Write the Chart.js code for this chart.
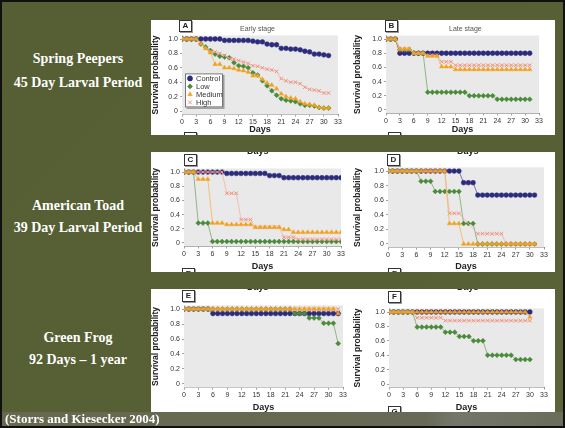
<!DOCTYPE html>
<html>
<head>
<meta charset="utf-8">
<title>Survival probability - Storrs and Kiesecker 2004</title>
<script src="https://cdn.jsdelivr.net/npm/chart.js@4.4.0/dist/chart.umd.min.js"></script>
<style>
    html, body { margin: 0; padding: 0; }
    body { width: 565px; height: 428px; overflow: hidden; }
    #slide {
        position: relative; width: 565px; height: 428px; overflow: hidden;
        background: linear-gradient(135deg, #565e33 0%, #575f34 70%, #5c6439 100%);
        font-family: "Liberation Serif", "Times New Roman", serif;
    }
    .frame { position: absolute; left: 0; top: 0; width: 565px; height: 428px; box-sizing: border-box; border: 2px solid #101010; pointer-events: none; }
    .label { position: absolute; left: 2px; width: 152px; text-align: center; color: #fff; font-weight: bold; font-size: 14px; line-height: 16px; white-space: nowrap; }
    .strip { position: absolute; left: 151px; width: 404px; background: #fff; overflow: hidden; }
    .strip canvas { position: absolute; top: 0; }
    .tag { position: absolute; width: 11px; height: 10px; border: 1px solid #333; box-shadow: 1px 1px 0 #999; background: #fff;
           font: bold 8px "Liberation Sans", Arial, sans-serif; color: #222; text-align: center; line-height: 10px; }
    .sub { position: absolute; font: 7px "Liberation Sans", Arial, sans-serif; color: #555; white-space: nowrap; }
    .cut { position: absolute; font: bold 9px "Liberation Sans", Arial, sans-serif; color: #222; white-space: nowrap; }
    #band { position: absolute; left: 0; top: 412px; width: 565px; height: 16px;
            background: linear-gradient(100deg, #66684f 0%, #686a55 75%, #74766a 80%, #6b6d5a 100%); }
    #cite { position: absolute; left: 5px; top: 411px; color: #fff; font-weight: bold; font-size: 13px; line-height: 16px; white-space: nowrap; }
</style>
</head>
<body>
<div id="slide">
    <div class="label" style="top:51px">Spring Peepers</div>
    <div class="label" style="top:75px">45 Day Larval Period</div>
    <div class="label" style="top:198px">American Toad</div>
    <div class="label" style="top:220px">39 Day Larval Period</div>
    <div class="label" style="top:330px">Green Frog</div>
    <div class="label" style="top:352px">92 Days – 1 year</div>

    <div class="strip" style="top:20px;height:115px">
        <canvas id="chartA" width="202" height="115" style="left:0"></canvas>
        <canvas id="chartB" width="202" height="115" style="left:202px"></canvas>
        <div class="tag" style="left:28px;top:0">A</div>
        <div class="tag" style="left:234px;top:0">B</div>
        <div class="sub" style="left:89px;top:5px">Early stage</div>
        <div class="sub" style="left:298px;top:5px">Late stage</div>
        <div class="tag" style="left:33px;top:112px">C</div>
        <div class="tag" style="left:237px;top:112px">D</div>
    </div>

    <div class="strip" style="top:152px;height:120px">
        <canvas id="chartC" width="202" height="120" style="left:0"></canvas>
        <canvas id="chartD" width="202" height="120" style="left:202px"></canvas>
        <div class="cut" style="left:96px;top:-6px">Days</div>
        <div class="cut" style="left:306px;top:-6px">Days</div>
        <div class="tag" style="left:33px;top:2px">C</div>
        <div class="tag" style="left:236px;top:2px">D</div>
        <div class="tag" style="left:31px;top:116px">E</div>
        <div class="tag" style="left:237px;top:116px">F</div>
    </div>

    <div class="strip" style="top:289px;height:124px">
        <canvas id="chartE" width="202" height="124" style="left:0"></canvas>
        <canvas id="chartF" width="202" height="124" style="left:202px"></canvas>
        <div class="cut" style="left:96px;top:-7px">Days</div>
        <div class="cut" style="left:306px;top:-7px">Days</div>
        <div class="tag" style="left:31px;top:1px">E</div>
        <div class="tag" style="left:237px;top:2px">F</div>
        <div class="tag" style="left:237px;top:117px">G</div>
    </div>

    <div id="band"></div>
    <div id="cite">(Storrs and Kiesecker 2004)</div>
    <div class="frame"></div>
</div>

<script>
// --- data ---
const seriesNames = ['Control', 'Low', 'Medium', 'High'];
const dayTicks = [0, 3, 6, 9, 12, 15, 18, 21, 24, 27, 30, 33];
const probTicks = [0, 0.2, 0.4, 0.6, 0.8, 1];

// A: Spring peepers, early stage
const daysA = [0,1,2,3,4,5,6,7,8,9,10,11,12,13,14,15,16,17,18,19,20,21,22,23,24,25,26,27,28,29,30,31];
const aControl = [1,1,1,1,1,1,1,1,1,0.98,0.98,0.98,0.98,0.98,0.98,0.97,0.96,0.96,0.93,0.92,0.92,0.87,0.87,0.86,0.86,0.85,0.83,0.82,0.79,0.79,0.78,0.77];
const aLow = [1,1,1,1,0.93,0.89,0.84,0.79,0.76,0.75,0.74,0.67,0.63,0.62,0.6,0.53,0.5,0.42,0.35,0.28,0.22,0.17,0.15,0.14,0.13,0.1,0.08,0.08,0.07,0.05,0.04,0.04];
const aMedium = [1,1,1,1,0.93,0.87,0.81,0.65,0.65,0.6,0.6,0.59,0.57,0.56,0.54,0.49,0.49,0.44,0.39,0.36,0.31,0.24,0.2,0.18,0.17,0.13,0.1,0.09,0.08,0.05,0.04,0.04];
const aHigh = [1,1,1,1,0.93,0.87,0.83,0.82,0.8,0.77,0.73,0.72,0.7,0.68,0.66,0.63,0.62,0.6,0.58,0.57,0.55,0.45,0.42,0.4,0.4,0.38,0.33,0.3,0.29,0.28,0.25,0.25];

// B: Spring peepers, late stage
const daysB = [0,1,2,3,4,5,6,7,8,9,10,11,12,13,14,15,16,17,18,19,20,21,22,23,24,25,26,27,28,29,30,31];
const bControl = [1,1,1,0.8,0.8,0.8,0.8,0.8,0.8,0.8,0.8,0.8,0.8,0.8,0.8,0.8,0.8,0.8,0.8,0.8,0.8,0.8,0.8,0.8,0.8,0.8,0.8,0.8,0.8,0.8,0.8,0.8];
const bLow = [1,1,1,0.85,0.85,0.85,0.8,0.8,0.8,0.25,0.25,0.25,0.25,0.25,0.25,0.25,0.25,0.25,0.2,0.2,0.2,0.2,0.2,0.2,0.15,0.15,0.15,0.15,0.15,0.15,0.15,0.15];
const bMedium = [1,1,1,0.86,0.86,0.86,0.8,0.8,0.8,0.76,0.76,0.76,0.61,0.61,0.61,0.57,0.57,0.57,0.57,0.57,0.57,0.57,0.57,0.57,0.57,0.57,0.57,0.57,0.57,0.57,0.57,0.57];
const bHigh = [1,1,1,0.86,0.86,0.86,0.8,0.8,0.8,0.77,0.77,0.77,0.68,0.68,0.68,0.63,0.63,0.63,0.63,0.63,0.63,0.63,0.63,0.63,0.63,0.63,0.63,0.63,0.63,0.63,0.63,0.63];

// C: American toad
const daysC = [0,1,2,3,4,5,6,7,8,9,10,11,12,13,14,15,16,17,18,19,20,21,22,23,24,25,26,27,28,29,30,31,32,33];
const cControl = [1,1,1,1,1,1,1,1,1,0.98,0.98,0.98,0.98,0.98,0.98,0.98,0.98,0.98,0.95,0.95,0.95,0.92,0.92,0.92,0.92,0.92,0.92,0.92,0.92,0.92,0.92,0.92,0.92,0.92];
const cLow = [1,1,1,0.28,0.28,0.28,0.02,0.02,0.02,0.02,0.02,0.02,0.02,0.02,0.02,0.02,0.02,0.02,0.02,0.02,0.02,0.02,0.02,0.02,0.02,0.02,0.02,0.02,0.02,0.02,0.02,0.02,0.02,0.02];
const cMedium = [1,1,1,0.9,0.9,0.9,0.28,0.28,0.28,0.26,0.26,0.26,0.26,0.26,0.26,0.22,0.22,0.22,0.22,0.22,0.22,0.19,0.19,0.15,0.15,0.15,0.15,0.15,0.15,0.15,0.15,0.15,0.15,0.15];
const cHigh = [1,1,1,1,1,1,1,1,1,0.7,0.7,0.7,0.33,0.33,0.33,0.22,0.22,0.22,0.22,0.22,0.22,0.08,0.08,0.08,0.05,0.05,0.05,0.05,0.05,0.05,0.05,0.05,0.05,0.05];

// D: American toad
const daysD = [0,1,2,3,4,5,6,7,8,9,10,11,12,13,14,15,16,17,18,19,20,21,22,23,24,25,26,27,28,29,30,31];
const dControl = [1,1,1,1,1,1,1,1,1,1,1,1,1,1,1,1,0.84,0.84,0.84,0.67,0.67,0.67,0.67,0.67,0.67,0.67,0.67,0.67,0.67,0.67,0.67,0.67];
const dLow = [1,1,1,1,1,1,1,0.86,0.86,0.86,0.72,0.72,0.72,0.72,0.72,0.72,0.28,0.28,0.28,0,0,0,0,0,0,0,0,0,0,0,0,0];
const dMedium = [1,1,1,1,1,1,1,1,1,1,1,1,1,0.28,0.28,0.28,0,0,0,0,0,0,0,0,0,0,0,0,0,0,0,0];
const dHigh = [1,1,1,1,1,1,1,1,1,1,1,1,1,0.42,0.42,0.42,null,null,null,0.14,0.14,0.14,0.14,0.14,0.14,0,0,0,0,0,0,0];

// E: Green frog
const daysE = [0,1,2,3,4,5,6,7,8,9,10,11,12,13,14,15,16,17,18,19,20,21,22,23,24,25,26,27,28,29,30,31,32];
const eControl = [1,1,1,1,1,1,0.94,0.94,0.94,0.94,0.94,0.94,0.94,0.94,0.94,0.94,0.94,0.94,0.94,0.94,0.94,0.94,0.94,0.94,0.94,0.94,0.94,0.94,0.94,0.94,0.94,0.94,0.94];
const eLow = [1,1,1,1,1,1,1,1,1,1,1,1,1,1,1,1,1,1,1,1,1,1,1,0.94,0.94,0.94,0.88,0.88,0.88,0.81,0.81,0.81,0.54];
const eMedium = [1,1,1,1,1,1,1,1,1,1,1,1,1,1,1,1,1,1,1,1,1,1,1,1,1,1,1,1,1,1,1,1,0.94];
const eHigh = [1,1,1,1,1,1,1,1,1,1,1,1,1,1,1,1,1,1,1,1,1,1,1,1,1,1,1,1,1,1,1,1,1];

// F: Green frog
const daysF = [0,1,2,3,4,5,6,7,8,9,10,11,12,13,14,15,16,17,18,19,20,21,22,23,24,25,26,27,28,29,30];
const fControl = [1,1,1,1,1,1,1,1,1,1,1,1,1,1,1,1,1,1,1,1,1,1,1,1,1,1,1,1,1,1,1];
const fLow = [1,1,1,1,1,1,0.79,0.79,0.79,0.79,0.79,0.79,0.72,0.72,0.72,0.66,0.66,0.66,0.6,0.6,0.6,0.4,0.4,0.4,0.4,0.4,0.4,0.34,0.34,0.34,0.34];
const fMedium = [1,1,1,1,1,1,1,1,1,1,1,1,1,1,1,1,1,1,1,1,1,1,1,1,1,1,1,1,1,1,0.93];
const fHigh = [1,1,1,1,1,1,0.92,0.92,0.92,0.92,0.92,0.92,0.88,0.88,0.88,0.88,0.88,0.88,0.88,0.88,0.88,0.88,0.88,0.88,0.88,0.88,0.88,0.88,0.88,0.88,0.88];

// --- styling ---
const seriesColors = ['#2d2c7c', '#4b8a3a', '#f3a01f', '#f0917c'];
const lineColors = ['#5a59a0', '#7aa86b', '#f5b656', '#f4b3a4'];
const seriesShapes = ['circle', 'rectRot', 'triangle', 'crossRot'];
const drawOrder = [3, 2, 0, 1]; // medium on top, as in the figure
const tickFont = { family: '"Liberation Sans Narrow", "Liberation Sans", Arial, sans-serif', size: 7 };
const titleFont = { family: '"Liberation Sans", Arial, sans-serif', size: 9, weight: 'bold' };

// gray plot background
const plotBg = {
    id: 'plotBg',
    beforeDatasetsDraw(chart) {
        const a = chart.chartArea;
        const ctx = chart.ctx;
        ctx.save();
        ctx.fillStyle = '#e9e9e9';
        ctx.fillRect(a.left, a.top, a.right - a.left, a.bottom - a.top);
        ctx.restore();
    }
};

// boxed legend drawn inside panel A
const boxLegend = {
    id: 'boxLegend',
    afterDatasetsDraw(chart, args, opts) {
        if (!opts.show) return;
        const ctx = chart.ctx;
        const x = chart.chartArea.left + 3;
        const y = chart.chartArea.top + 38;
        const w = 38, h = 34;
        ctx.save();
        ctx.fillStyle = '#9a9a9a';
        ctx.fillRect(x + 1.5, y + 1.5, w, h);
        ctx.fillStyle = '#fff';
        ctx.fillRect(x, y, w, h);
        ctx.strokeStyle = '#555';
        ctx.lineWidth = 0.8;
        ctx.strokeRect(x + 0.5, y + 0.5, w - 1, h - 1);
        ctx.font = '7.5px "Liberation Sans", Arial, sans-serif';
        ctx.textBaseline = 'middle';
        chart.data.datasets.forEach((ds, i) => {
            const ry = y + 5 + i * 8;
            ctx.fillStyle = ds.pointBackgroundColor;
            ctx.strokeStyle = ds.pointBorderColor;
            ctx.lineWidth = ds.pointBorderWidth;
            Chart.helpers.drawPoint(ctx, { pointStyle: ds.pointStyle, radius: 2.6, borderWidth: ds.pointBorderWidth, rotation: 0 }, x + 5, ry);
            ctx.fillStyle = '#333';
            ctx.fillText(ds.label, x + 11, ry + 0.5);
        });
        ctx.restore();
    }
};

function makePanel(canvasId, days, series, pad, showLegend) {
    const datasets = series.map((vals, i) => ({
        label: seriesNames[i],
        data: days.map((d, k) => ({ x: d, y: vals[k] })),
        order: drawOrder[i],
        borderColor: lineColors[i],
        borderWidth: 0.8,
        pointStyle: seriesShapes[i],
        pointRadius: seriesShapes[i] === 'circle' ? 2.4 : 2.5,
        pointBackgroundColor: seriesColors[i],
        pointBorderColor: seriesColors[i],
        pointBorderWidth: seriesShapes[i] === 'crossRot' ? 1 : 0.5,
        spanGaps: true,
        tension: 0
    }));

    new Chart(document.getElementById(canvasId), {
        type: 'line',
        data: { datasets: datasets },
        options: {
            responsive: false,
            animation: false,
            devicePixelRatio: 1,
            layout: { padding: { left: 0, top: pad.t, right: pad.r, bottom: 0 } },
            plugins: {
                legend: { display: false },
                tooltip: { enabled: false },
                boxLegend: { show: showLegend }
            },
            scales: {
                x: {
                    type: 'linear', min: 0, max: 33,
                    afterBuildTicks: s => { s.ticks = dayTicks.map(v => ({ value: v })); },
                    afterFit: s => { s.height = pad.b; },
                    ticks: { font: tickFont, color: '#333', padding: 1, maxRotation: 0, autoSkip: false },
                    grid: { drawOnChartArea: false, tickLength: 2, color: '#777', lineWidth: 0.7 },
                    border: { color: '#555', width: 0.8 },
                    title: { display: true, text: 'Days', font: titleFont, color: '#222', padding: { top: 2, bottom: 0 } }
                },
                y: {
                    type: 'linear', min: -0.05, max: 1.05,
                    afterBuildTicks: s => { s.ticks = probTicks.map(v => ({ value: v })); },
                    afterFit: s => { s.width = pad.l; },
                    ticks: { font: tickFont, color: '#333', padding: 2 },
                    grid: { drawOnChartArea: false, tickLength: 2, color: '#777', lineWidth: 0.7 },
                    border: { color: '#555', width: 0.8 },
                    title: { display: true, text: 'Survival probability', font: { family: titleFont.family, size: 8.5, weight: 'bold' }, color: '#222', padding: 0 }
                }
            }
        },
        plugins: [plotBg, boxLegend]
    });
}

document.addEventListener('DOMContentLoaded', () => {
    makePanel('chartA', daysA, [aControl, aLow, aMedium, aHigh], { l: 31, t: 15.4, r: 15, b: 20.4 }, true);
    makePanel('chartB', daysB, [bControl, bLow, bMedium, bHigh], { l: 33, t: 15.5, r: 16, b: 21.5 }, false);
    makePanel('chartC', daysC, [cControl, cLow, cMedium, cHigh], { l: 33, t: 16.5, r: 12, b: 25.5 }, false);
    makePanel('chartD', daysD, [dControl, dLow, dMedium, dHigh], { l: 35, t: 15.4, r: 11, b: 24.4 }, false);
    makePanel('chartE', daysE, [eControl, eLow, eMedium, eHigh], { l: 33, t: 16.3, r: 10, b: 25.3 }, false);
    makePanel('chartF', daysF, [fControl, fLow, fMedium, fHigh], { l: 36, t: 19.4, r: 11, b: 25.4 }, false);
});
</script>
</body>
</html>
